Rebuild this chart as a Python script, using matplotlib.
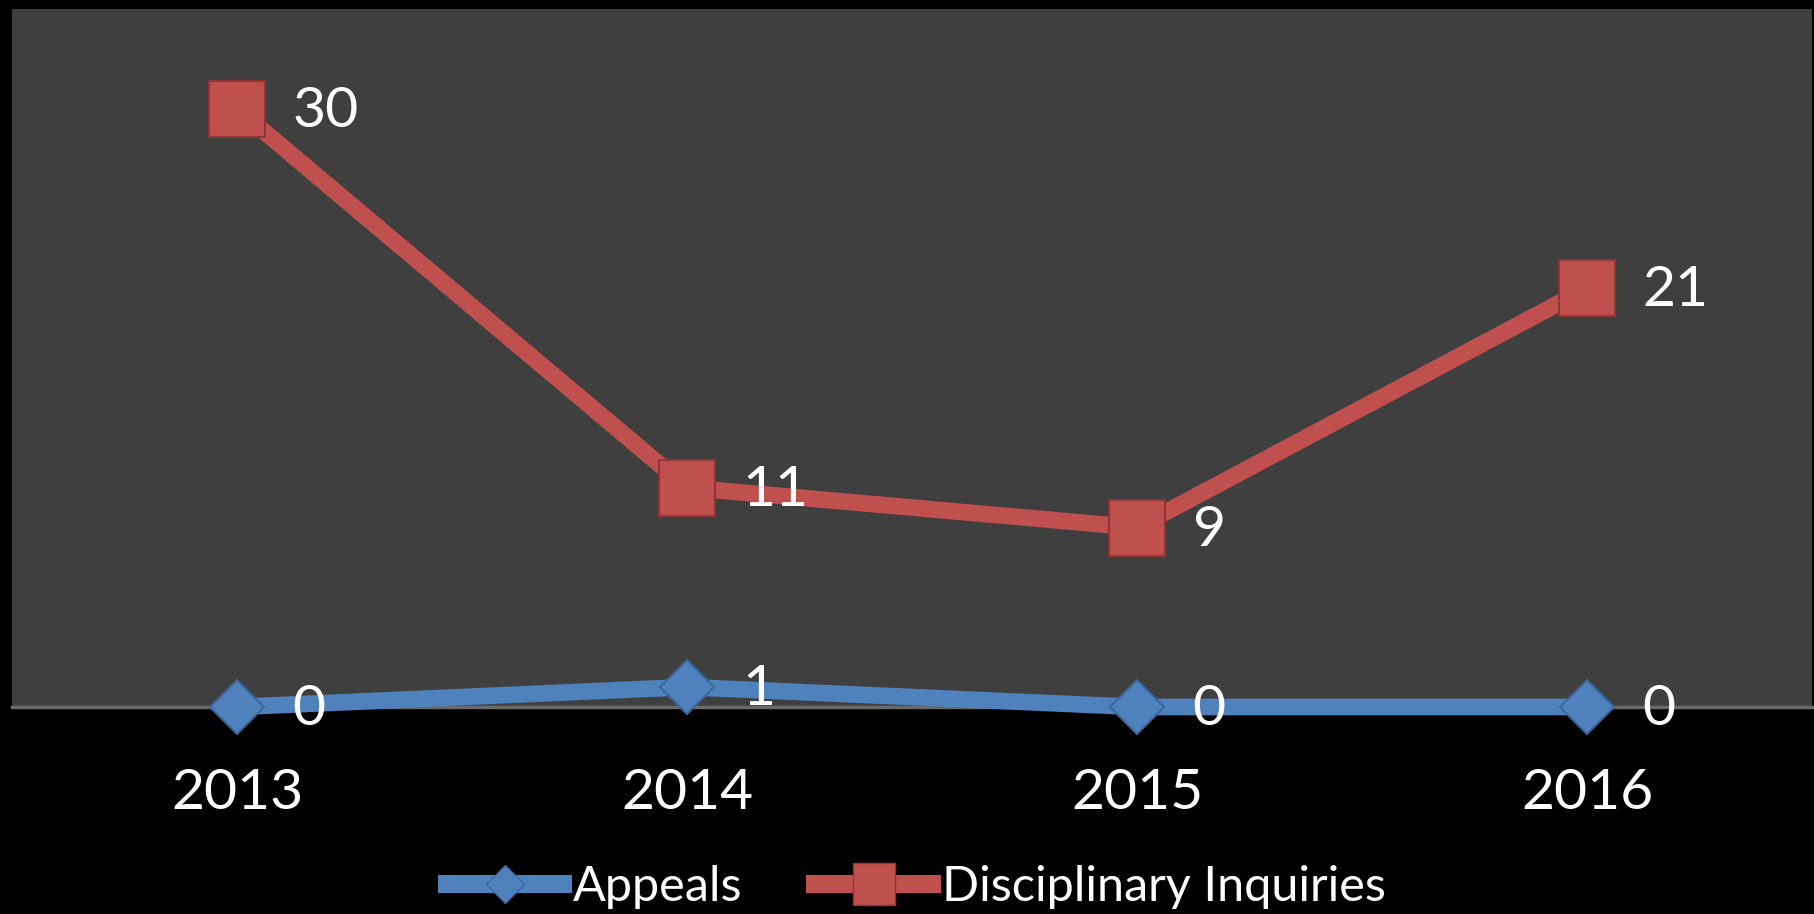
import matplotlib
matplotlib.use("Agg")
import matplotlib.pyplot as plt
from matplotlib.lines import Line2D

# Daten
years = ["2013", "2014", "2015", "2016"]
appeals = [0, 1, 0, 0]
inquiries = [30, 11, 9, 21]

blue = "#4F81BD"
red = "#C0504D"

plt.rcParams['font.family'] = ['Lato', 'DejaVu Sans']

fig = plt.figure(figsize=(18.14, 9.14), dpi=100, facecolor="black")
ax = fig.add_axes([12 / 1814, 1 - 707 / 914, 1800 / 1814, 698 / 914])
ax.set_facecolor("#3f3f3f")

ax.plot(years, appeals, color=blue, lw=12, marker="D", ms=27,
        mfc=blue, mec="#3b679c", mew=1.5, solid_capstyle="butt",
        zorder=4, clip_on=False)
ax.plot(years, inquiries, color=red, lw=12, marker="s", ms=40,
        mfc=red, mec="#8f3533", mew=1.5, solid_capstyle="butt",
        zorder=3, clip_on=False)

# Datenbeschriftungen
for x, v in zip(years, appeals):
    ax.annotate(str(v), (x, v), xytext=(40, -2), textcoords="offset points",
                ha="left", va="center", color="white", fontsize=41, zorder=6)
for x, v in zip(years, inquiries):
    ax.annotate(str(v), (x, v), xytext=(40, -2), textcoords="offset points",
                ha="left", va="center", color="white", fontsize=41, zorder=6)

ax.set_xlim(-0.5, 3.5)
ax.set_ylim(0, 35)
ax.set_yticks([])
ax.tick_params(axis="x", length=0, pad=44, labelsize=41, labelcolor="white")

for s in ["top", "left", "right"]:
    ax.spines[s].set_visible(False)
ax.spines["bottom"].set_color("#6a6a6a")
ax.spines["bottom"].set_linewidth(2.5)
ax.spines["bottom"].set_zorder(2)

# Legende
handles = [
    Line2D([], [], color=blue, lw=13, marker="D", ms=19, mfc=blue, mec="#3b679c"),
    Line2D([], [], color=red, lw=13, marker="s", ms=30, mfc=red, mec="#8f3533"),
]
leg = fig.legend(handles, ["Appeals", "Disciplinary Inquiries"], loc="center",
                 bbox_to_anchor=(0.505, 0.03), ncol=2, frameon=False,
                 fontsize=35, handlelength=2.4, handletextpad=0.2,
                 columnspacing=1.5, labelcolor="white")

fig.savefig("out.png", dpi=100, facecolor="black")
